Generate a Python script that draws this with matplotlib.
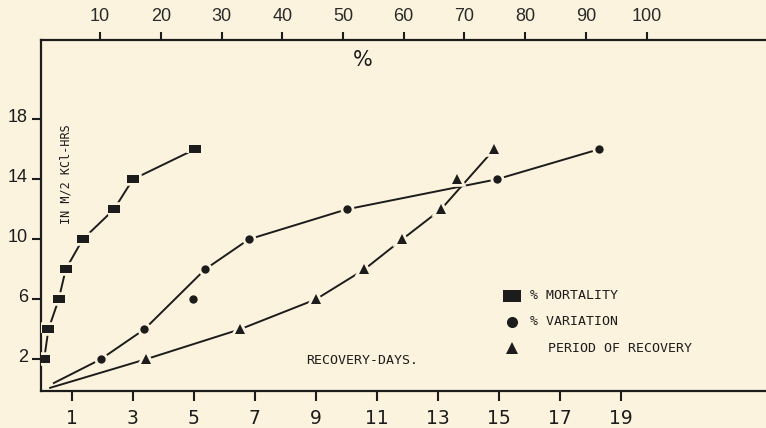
import matplotlib.pyplot as plt
import matplotlib.transforms as mtransforms

# y levels shared by all three series (IN M/2 KCl-HRS)
levels = [2, 4, 6, 8, 10, 12, 14, 16]

# % mortality (read against the top % axis)
mortality_pct = [0.8, 1.5, 3.2, 4.35, 7.15, 12.3, 15.4, 25.6]
# % variation (top % axis)
variation_pct = [10.1, 17.3, 25.3, 27.3, 34.5, 50.6, 75.3, 92.1]
# period of recovery (bottom days axis)
recovery_days = [3.42, 6.51, 9.0, 10.59, 11.83, 13.1, 13.62, 14.84]

# hand drawn trend curves through the points
mort_line_x = mortality_pct
mort_line_y = levels
var_line_x = [2.4, 10.1, 17.3, 27.3, 34.5, 50.6, 75.3, 92.1]
var_line_y = [0.42, 2, 4, 8, 10, 12, 14, 16]
rec_line_x = [0.29, 3.42, 6.51, 9.0, 10.59, 11.83, 13.1, 14.84]
rec_line_y = [0.1, 2, 4, 6, 8, 10, 12, 16]

day_ticks = [1, 3, 5, 7, 9, 11, 13, 15, 17, 19]
pct_ticks = [10, 20, 30, 40, 50, 60, 70, 80, 90, 100]
y_ticks = [2, 6, 10, 14, 18]

legend_labels = ["% MORTALITY", "% VARIATION", "PERIOD OF RECOVERY"]

bg = '#fcf3de'
ink = '#1c1c1c'
W, H = 766, 428

fig = plt.figure(figsize=(W / 100, H / 100), dpi=100)
fig.patch.set_facecolor(bg)
ax = fig.add_axes([41 / W, (H - 391) / H, 725 / W, 351 / H])
ax.set_facecolor(bg)
ax.set_xlim(-0.01, 23.75)
ax.set_ylim(-0.113, 23.29)

top = ax.twiny()
top.set_xlim(0.28, 119.64)

for a in (ax, top):
    for s in a.spines.values():
        s.set_color(ink)
        s.set_linewidth(1.6)
    a.spines['right'].set_visible(False)
ax.spines['top'].set_visible(False)
top.spines['bottom'].set_visible(False)
top.spines['left'].set_visible(False)

ax.set_xticks(day_ticks)
ax.set_xticklabels([str(d) for d in day_ticks], family=['Liberation Sans Narrow', 'DejaVu Sans'],
                   fontsize=13.5, color=ink)
ax.tick_params(axis='x', direction='out', length=7, width=1.5, pad=6, color=ink)
ax.set_yticks(y_ticks)
ax.set_yticklabels([str(v) for v in y_ticks], family=['Liberation Sans', 'DejaVu Sans'],
                   fontsize=13, color=ink)
ax.tick_params(axis='y', direction='out', length=6.5, width=1.5, pad=3, color=ink)
for lbl in ax.get_yticklabels():
    lbl.set_transform(lbl.get_transform() + mtransforms.ScaledTranslation(0, 3 / 72, fig.dpi_scale_trans))

top.set_xticks(pct_ticks)
top.set_xticklabels([str(p) for p in pct_ticks], family=['Liberation Sans', 'DejaVu Sans'],
                    fontsize=13, color='#2a2a2a')
top.tick_params(axis='x', direction='out', length=5.8, width=1.5, pad=4.8, color=ink)

rect = [(-1, -0.65), (1, -0.65), (1, 0.65), (-1, 0.65), (-1, -0.65)]
lw = 1.4

# trend lines
top.plot(mort_line_x, mort_line_y, color=ink, lw=lw, zorder=2)
top.plot(var_line_x, var_line_y, color=ink, lw=lw, zorder=2)
ax.plot(rec_line_x, rec_line_y, color=ink, lw=lw, zorder=2)

# data points: a background halo first so the lines break near them, then the mark
series = [
    (mortality_pct, rect, 8, top.transData),
    (variation_pct, 'o', 6, top.transData),
    (recovery_days, '^', 7.2, ax.transData),
]
for xs, m, ms, tr in series:
    top.plot(xs, levels, ls='none', marker=m, ms=ms, color=bg, mec=bg, mew=4,
             zorder=3, transform=tr)
    top.plot(xs, levels, ls='none', marker=m, ms=ms, color=ink, mew=0,
             zorder=4, transform=tr)

# legend drawn by hand
def px(x, y):
    return (x - 41) / 725, (391 - y) / 351

mono = ['DejaVu Sans Mono']
leg_markers = [(rect, 12.5), ('o', 8), ('^', 9)]
leg_rows = [295.7, 321.7, 348]
leg_text_x = [530, 530, 548]
for (m, ms), ry, tx, lab in zip(leg_markers, leg_rows, leg_text_x, legend_labels):
    ax.plot(*px(512, ry), marker=m, ms=ms, color=ink, mew=0, transform=ax.transAxes, clip_on=False)
    ax.text(*px(tx, ry), lab, transform=ax.transAxes, ha='left', va='center',
            family=mono, fontsize=9.5, color=ink)

ax.text(*px(306, 360), "RECOVERY-DAYS.", transform=ax.transAxes, ha='left', va='center',
        family=mono, fontsize=9.5, color=ink)
ax.text(*px(363, 60), "%", transform=ax.transAxes, ha='center', va='center',
        fontsize=15, color=ink)
ax.text(*px(66, 174), "IN M/2 KCl-HRS", transform=ax.transAxes, ha='center', va='center',
        rotation=90, family=mono, fontsize=8.5, color=ink)

fig.savefig("out.png", dpi=100, facecolor=bg)
